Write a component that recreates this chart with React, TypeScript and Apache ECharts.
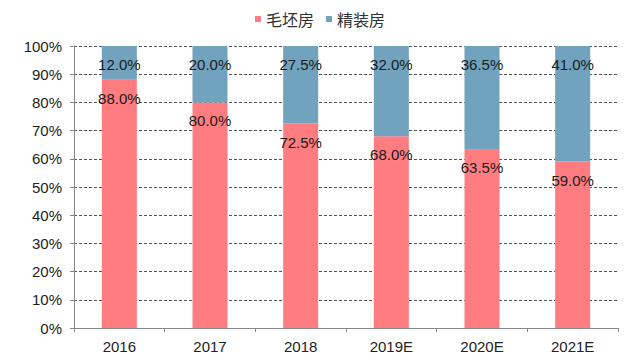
import React, { useEffect, useRef } from "react";
import * as echarts from "echarts";

const categories = ["2016", "2017", "2018", "2019E", "2020E", "2021E"];
const roughValues = [88.0, 80.0, 72.5, 68.0, 63.5, 59.0];
const finishedValues = [12.0, 20.0, 27.5, 32.0, 36.5, 41.0];
const yTicks = [0, 10, 20, 30, 40, 50, 60, 70, 80, 90, 100];

export default function App() {
  const ref = useRef<HTMLDivElement>(null);
  useEffect(() => {
    if (!ref.current) return;
    const chart = echarts.init(ref.current, null, { renderer: "svg" });
    const labelBase = {
      show: true,
      position: "insideTop" as const,
      distance: 11,
      color: "#1a1a1a",
      fontSize: 15,
      fontFamily: "Liberation Sans, Arial, sans-serif",
      formatter: (p: any) => Number(p.value).toFixed(1) + "%",
    };
    chart.setOption({
      animation: false,
      legend: {
        top: 6,
        left: "center",
        itemWidth: 6,
        itemHeight: 6,
        itemGap: 12,
        icon: "rect",
        textStyle: { fontSize: 16, color: "#333", fontFamily: "Noto Sans CJK SC, sans-serif" },
        data: ["毛坯房", "精装房"],
      },
      grid: { left: 74, right: 22, top: 46, bottom: 36 },
      xAxis: {
        type: "category",
        data: categories,
        axisLine: { lineStyle: { color: "#888" } },
        axisTick: { show: true, length: 4, lineStyle: { color: "#888" } },
        axisLabel: { fontSize: 15, color: "#222", margin: 11, fontFamily: "Liberation Sans, Arial, sans-serif" },
      },
      yAxis: {
        type: "value",
        min: 0,
        max: 100,
        interval: 10,
        axisLine: { show: true, lineStyle: { color: "#888" } },
        axisTick: { show: true, length: 4, lineStyle: { color: "#888" } },
        axisLabel: {
          fontSize: 15,
          color: "#222",
          margin: 12,
          fontFamily: "Liberation Sans, Arial, sans-serif",
          formatter: (v: number) => (yTicks.includes(v) ? v + "%" : ""),
        },
        splitLine: { lineStyle: { color: "#555", type: [3, 2], width: 1 } },
      },
      series: [
        {
          name: "毛坯房",
          type: "bar",
          stack: "total",
          barWidth: 35,
          itemStyle: { color: "#FF7C80" },
          label: labelBase,
          data: roughValues,
        },
        {
          name: "精装房",
          type: "bar",
          stack: "total",
          barWidth: 35,
          itemStyle: { color: "#71A2BE" },
          label: labelBase,
          data: finishedValues,
        },
      ],
    });
    return () => chart.dispose();
  }, []);
  return (
    <div
      ref={ref}
      style={{ position: "absolute", left: 0, top: 0, width: 640, height: 364 }}
    />
  );
}
